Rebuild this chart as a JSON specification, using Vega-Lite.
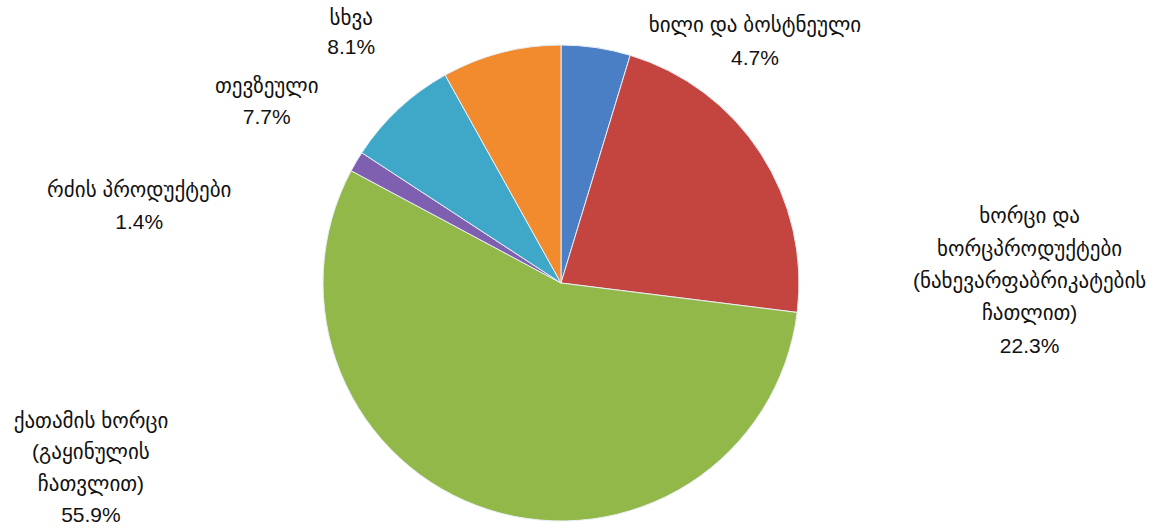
{
  "$schema": "https://vega.github.io/schema/vega-lite/v6.json",
  "width": 1122,
  "height": 492,
  "autosize": "none",
  "padding": {"left": 0, "right": 41, "top": 37, "bottom": 0},
  "background": "#ffffff",
  "config": {"view": {"stroke": null}},
  "data": {
    "values": [
      {"idx": 1, "cat": "ხილი და ბოსტნეული", "value": 4.7, "label": "ხილი და ბოსტნეული\n4.7%"},
      {"idx": 2, "cat": "ხორცი და ხორცპროდუქტები", "value": 22.3, "label": "ხორცი და\nხორცპროდუქტები\n(ნახევარფაბრიკატების\nჩათლით)\n22.3%"},
      {"idx": 3, "cat": "ქათამის ხორცი", "value": 55.9, "label": "ქათამის ხორცი\n(გაყინულის\nჩათვლით)\n55.9%"},
      {"idx": 4, "cat": "რძის პროდუქტები", "value": 1.4, "label": "რძის პროდუქტები\n1.4%"},
      {"idx": 5, "cat": "თევზეული", "value": 7.7, "label": "თევზეული\n7.7%"},
      {"idx": 6, "cat": "სხვა", "value": 8.1, "label": "სხვა\n8.1%"}
    ]
  },
  "encoding": {
    "theta": {"field": "value", "type": "quantitative", "stack": true},
    "order": {"field": "idx", "type": "quantitative"}
  },
  "layer": [
    {
      "mark": {"type": "arc", "outerRadius": 238, "stroke": "#e8eef5", "strokeWidth": 1},
      "encoding": {
        "color": {
          "field": "cat",
          "type": "nominal",
          "scale": {
            "domain": ["ხილი და ბოსტნეული", "ხორცი და ხორცპროდუქტები", "ქათამის ხორცი", "რძის პროდუქტები", "თევზეული", "სხვა"],
            "range": ["#4a7fc6", "#c4443f", "#93b84a", "#7f5fb0", "#3fa8c8", "#f28a2e"]
          },
          "legend": null
        }
      }
    },
    {
      "mark": {"type": "text", "radius": 238, "dx": 159, "dy": -22, "lineBreak": "\n", "lineHeight": 33, "fontSize": 21, "font": "Liberation Sans, DejaVu Sans", "color": "#111111", "align": "center", "baseline": "middle"},
      "encoding": {"text": {"condition": {"test": "datum.idx === 1", "field": "label"}, "value": ""}}
    },
    {
      "mark": {"type": "text", "radius": 238, "dx": 269, "dy": 64, "lineBreak": "\n", "lineHeight": 32.3, "fontSize": 21, "font": "Liberation Sans, DejaVu Sans", "color": "#111111", "align": "center", "baseline": "middle"},
      "encoding": {"text": {"condition": {"test": "datum.idx === 2", "field": "label"}, "value": ""}}
    },
    {
      "mark": {"type": "text", "radius": 238, "dx": -398, "dy": -88, "lineBreak": "\n", "lineHeight": 31.5, "fontSize": 21, "font": "Liberation Sans, DejaVu Sans", "color": "#111111", "align": "center", "baseline": "middle"},
      "encoding": {"text": {"condition": {"test": "datum.idx === 3", "field": "label"}, "value": ""}}
    },
    {
      "mark": {"type": "text", "radius": 238, "dx": -217, "dy": 29, "lineBreak": "\n", "lineHeight": 32, "fontSize": 21, "font": "Liberation Sans, DejaVu Sans", "color": "#111111", "align": "center", "baseline": "middle"},
      "encoding": {"text": {"condition": {"test": "datum.idx === 4", "field": "label"}, "value": ""}}
    },
    {
      "mark": {"type": "text", "radius": 238, "dx": -132, "dy": -22, "lineBreak": "\n", "lineHeight": 31, "fontSize": 21, "font": "Liberation Sans, DejaVu Sans", "color": "#111111", "align": "center", "baseline": "middle"},
      "encoding": {"text": {"condition": {"test": "datum.idx === 5", "field": "label"}, "value": ""}}
    },
    {
      "mark": {"type": "text", "radius": 238, "dx": -150, "dy": -34, "lineBreak": "\n", "lineHeight": 29, "fontSize": 21, "font": "Liberation Sans, DejaVu Sans", "color": "#111111", "align": "center", "baseline": "middle"},
      "encoding": {"text": {"condition": {"test": "datum.idx === 6", "field": "label"}, "value": ""}}
    }
  ]
}
